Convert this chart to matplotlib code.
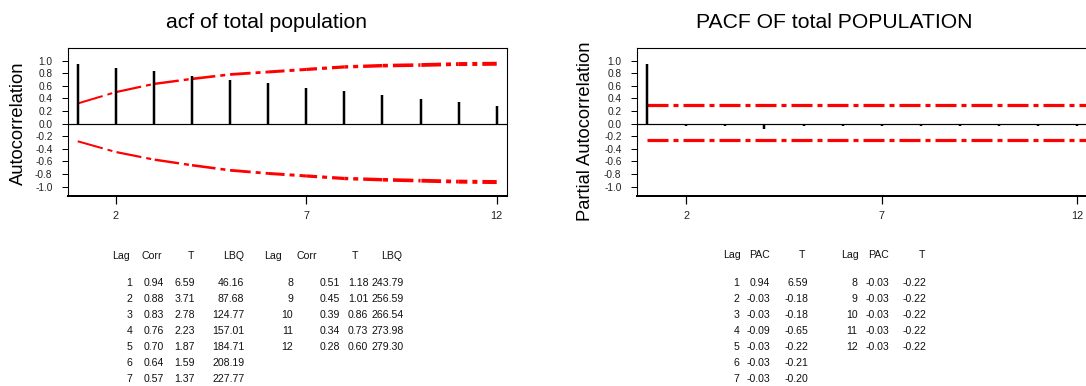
import numpy as np
import matplotlib
matplotlib.use("Agg")
import matplotlib.pyplot as plt

plt.rcParams['font.family'] = ['Liberation Sans', 'DejaVu Sans']
plt.rcParams['lines.scale_dashes'] = False

# ---------------- data ----------------
lags = [1, 2, 3, 4, 5, 6, 7, 8, 9, 10, 11, 12]
acf_corr = [0.94, 0.88, 0.83, 0.76, 0.70, 0.64, 0.57, 0.51, 0.45, 0.39, 0.34, 0.28]
acf_t = [6.59, 3.71, 2.78, 2.23, 1.87, 1.59, 1.37, 1.18, 1.01, 0.86, 0.73, 0.60]
acf_lbq = [46.16, 87.68, 124.77, 157.01, 184.71, 208.19, 227.77,
           243.79, 256.59, 266.54, 273.98, 279.30]
acf_upper = [0.32, 0.50, 0.63, 0.71, 0.78, 0.82, 0.86, 0.90, 0.92, 0.93, 0.945, 0.95]
acf_lower = [-0.28, -0.45, -0.57, -0.66, -0.74, -0.79, -0.83, -0.87, -0.89, -0.905, -0.92, -0.927]

pacf_vals = [0.94, -0.03, -0.03, -0.09, -0.03, -0.03, -0.03, -0.03, -0.03, -0.03, -0.03, -0.03]
pacf_t = [6.59, -0.18, -0.18, -0.65, -0.22, -0.21, -0.20, -0.22, -0.22, -0.22, -0.22, -0.22]
pacf_upper = 0.30
pacf_lower = -0.26

acf_title = "acf of total population"
pacf_title = "PACF OF total POPULATION"
acf_ylabel = "Autocorrelation"
pacf_ylabel = "Partial Autocorrelation"
xticks = [2, 7, 12]
yticks = [-1.0, -0.8, -0.6, -0.4, -0.2, 0.0, 0.2, 0.4, 0.6, 0.8, 1.0]

# ---------------- figure ----------------
W, H, DPI = 1086, 386, 100
fig = plt.figure(figsize=(W / DPI, H / DPI), dpi=DPI)
fig.patch.set_facecolor('white')

def px_axes(x0, x1, ytop, ybot):
    return fig.add_axes([x0 / W, (H - ybot) / H, (x1 - x0) / W, (ybot - ytop) / H])

PT = 72.0 / DPI
TICKCOL = '#222222'

def style_axes(ax):
    ax.set_xlim(0.745, 12.27)
    ax.set_ylim(-1.148, 1.20)
    ax.set_xticks(xticks)
    ax.set_xticklabels([str(t) for t in xticks])
    ax.set_yticks(yticks)
    ax.set_yticklabels([f"{v:.1f}" for v in yticks])
    ax.tick_params(axis='y', direction='out', length=6.5 * PT, width=1.0 * PT,
                   pad=9 * PT, labelsize=7.3, labelcolor=TICKCOL)
    ax.tick_params(axis='x', direction='out', length=8 * PT, width=1.2 * PT,
                   pad=7 * PT, labelsize=7.8, labelcolor=TICKCOL)
    for s in ['left', 'right', 'top']:
        ax.spines[s].set_linewidth(1.1 * PT)
    ax.spines['bottom'].set_linewidth(2.0 * PT)
    ax.axhline(0.0, color='black', lw=1.2 * PT, zorder=2)

def varwidth_dashdot(ax, x, y, w0, w1, d0, d1):
    pts = ax.transData.transform(np.column_stack([x, y]))
    seglen = np.hypot(np.diff(pts[:, 0]), np.diff(pts[:, 1]))
    n = len(x) - 1
    widths = np.linspace(w0, w1, n)
    dashes = np.linspace(d0, d1, n)
    offset = 0.0
    for i in range(n):
        pattern = (dashes[i] * PT, 5 * PT, 5 * PT, 5 * PT)
        ax.plot(x[i:i + 2], y[i:i + 2], color='red', lw=widths[i] * PT,
                linestyle=(offset * PT, pattern), dash_capstyle='butt',
                solid_capstyle='butt', zorder=3)
        offset += seglen[i]

# ACF axes
ax1 = px_axes(68, 507, 48, 196)
style_axes(ax1)
ax1.vlines(lags, 0, acf_corr, colors='black', lw=2.5 * PT, zorder=4)
varwidth_dashdot(ax1, np.array(lags, float), np.array(acf_upper), 2.0, 4.0, 26, 19)
varwidth_dashdot(ax1, np.array(lags, float), np.array(acf_lower), 2.0, 4.0, 26, 19)

# PACF axes
ax2 = px_axes(637, 1088, 48, 196)
style_axes(ax2)
ax2.vlines(lags, 0, pacf_vals, colors='black', lw=2.5 * PT, zorder=4)
xr = ax2.get_xlim()[1]
for v in (pacf_upper, pacf_lower):
    ax2.plot([lags[0], xr], [v, v], color='red', lw=3.2 * PT,
             linestyle=(0, (21 * PT, 5 * PT, 5 * PT, 5 * PT)),
             dash_capstyle='butt', zorder=3)

# titles and y-labels (placed in pixels)
def ftext(x, y, s, **kw):
    fig.text(x / W, 1 - y / H, s, **kw)

ftext(267, 28, acf_title, ha='center', va='baseline', fontsize=15.2, color='black')
ftext(834, 28, pacf_title, ha='center', va='baseline', fontsize=15.2, color='black')
ftext(18, 123.5, acf_ylabel, ha='center', va='center', rotation=90, fontsize=13.2)
ftext(585, 131.5, pacf_ylabel, ha='center', va='center', rotation=90, fontsize=13.2)

# ---------------- tables ----------------
TFS = 7.6
TCOL = '#111111'
hdr_base = 258.6
row0 = 286.3
dy = 15.9

# ACF table
acf_hdr = [("Lag", 130), ("Corr", 162), ("T", 194), ("LBQ", 244),
           ("Lag", 282), ("Corr", 317), ("T", 358), ("LBQ", 402)]
for s, xr_ in acf_hdr:
    ftext(xr_, hdr_base, s, ha='right', va='baseline', fontsize=TFS, color=TCOL)
acf_cols = [[132.3, 164.3, 195, 244.3], [293, 340, 368.3, 403.3]]
for i, lag in enumerate(lags):
    g = 0 if i < 7 else 1
    r = i if i < 7 else i - 7
    yb = row0 + r * dy
    vals = [f"{lag}", f"{acf_corr[i]:.2f}", f"{acf_t[i]:.2f}", f"{acf_lbq[i]:.2f}"]
    for s, xr_ in zip(vals, acf_cols[g]):
        ftext(xr_, yb, s, ha='right', va='baseline', fontsize=TFS, color=TCOL)

# PACF table
pacf_hdr = [("Lag", 740.7), ("PAC", 770), ("T", 805),
            ("Lag", 859), ("PAC", 889), ("T", 925)]
for s, xr_ in pacf_hdr:
    ftext(xr_, hdr_base - 0.6, s, ha='right', va='baseline', fontsize=TFS, color=TCOL)
pacf_cols = [[739.5, 770, 808.5], [857.5, 889.5, 926.7]]
for i, lag in enumerate(lags):
    g = 0 if i < 7 else 1
    r = i if i < 7 else i - 7
    yb = row0 + r * 16.0
    vals = [f"{lag}", f"{pacf_vals[i]:.2f}", f"{pacf_t[i]:.2f}"]
    for s, xr_ in zip(vals, pacf_cols[g]):
        ftext(xr_, yb, s, ha='right', va='baseline', fontsize=TFS, color=TCOL)

fig.savefig("out.png", dpi=DPI, facecolor='white')
